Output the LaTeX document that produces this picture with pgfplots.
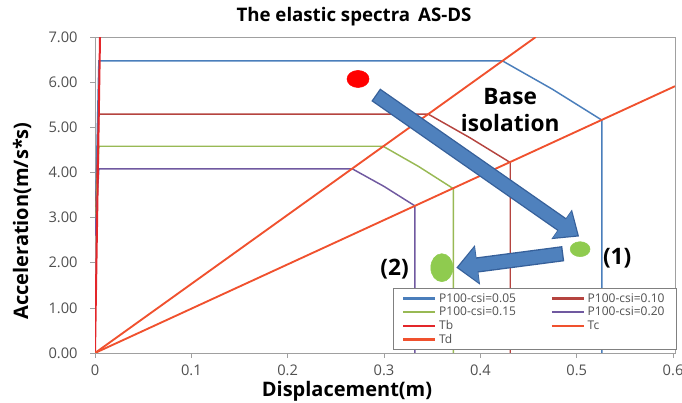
\documentclass[border=0pt]{standalone}
\usepackage{fontspec}
\setmainfont{Open Sans}
\usepackage{pgfplots}
\pgfplotsset{compat=1.18}
\usetikzlibrary{arrows.meta}

\definecolor{c05}{HTML}{4A7EBB}
\definecolor{c10}{HTML}{B5443F}
\definecolor{c15}{HTML}{98B954}
\definecolor{c20}{HTML}{7059A0}
\definecolor{tb}{HTML}{E3262A}
\definecolor{tcd}{HTML}{F0512E}
\definecolor{axgray}{HTML}{A0A0A0}
\definecolor{ticktext}{HTML}{505050}
\definecolor{arrowfill}{HTML}{4F81BD}
\definecolor{arrowedge}{HTML}{36609A}
\definecolor{dotgreen}{HTML}{8FCB4F}

\begin{document}
\begin{tikzpicture}
\useasboundingbox (0,0) rectangle (511.5pt,302.25pt);
\begin{axis}[
  at={(71.25pt,37.5pt)}, anchor=south west,
  scale only axis, width=435pt, height=237pt,
  xmin=0, xmax=0.602, ymin=0, ymax=7,
  xtick={0,0.1,0.2,0.3,0.4,0.5,0.6},
  xticklabels={0,0.1,0.2,0.3,0.4,0.5,0.6},
  ytick={0,1,2,3,4,5,6,7},
  yticklabel={\pgfmathprintnumber[fixed,fixed zerofill,precision=2]{\tick}},
  /pgf/number format/assume math mode=true,
  axis line style={axgray},
  tick style={axgray, thin},
  tick align=outside, major tick length=3.5pt,
  xtick pos=bottom, ytick pos=left,
  ticklabel style={font=\fontsize{11}{13}\selectfont, text=ticktext},
  yticklabel style={xshift=-6pt},
  xticklabel style={yshift=-2pt},
  legend columns=2,
  legend cell align=left,
  legend style={at={(1.003,0.0095)}, anchor=south east,
    draw=axgray!80!black, fill=white,
    font=\fontsize{9}{10}\selectfont, text=ticktext,
    inner xsep=7pt, inner ysep=1.5pt, row sep=-2pt,
    /tikz/every even column/.append style={column sep=24pt}},
  legend image code/.code={\draw[#1] (0pt,0pt) -- (24pt,0pt);},
  legend image post style={line width=1.8pt},
]
% design spectra for the four damping ratios
\addplot[c05, line width=1.1pt] coordinates {
  (0,2.6) (0.004,6.47) (0.423,6.47) (0.475,5.84) (0.526,5.16) (0.526,0)};
\addlegendentry{P100-csi=0.05}
\addplot[c10, line width=1.1pt] coordinates {
  (0,2.6) (0.004,5.29) (0.346,5.29) (0.389,4.77) (0.431,4.22) (0.431,0)};
\addlegendentry{P100-csi=0.10}
\addplot[c15, line width=1.1pt] coordinates {
  (0,2.6) (0.004,4.58) (0.299,4.58) (0.336,4.13) (0.372,3.64) (0.372,0)};
\addlegendentry{P100-csi=0.15}
\addplot[c20, line width=1.1pt] coordinates {
  (0,2.6) (0.004,4.08) (0.267,4.08) (0.300,3.69) (0.332,3.26) (0.332,0)};
\addlegendentry{P100-csi=0.20}
% corner-period lines
\addplot[tb, line width=1.5pt] coordinates {(0,0) (0.0052,7)};
\addlegendentry{Tb}
\addplot[tcd, line width=1.4pt] coordinates {(0,0) (0.4575,7)};
\addlegendentry{Tc}
\addplot[tcd, line width=1.4pt] coordinates {(0,0) (0.602,5.91)};
\addlegendentry{Td}

% shift arrows
\draw[arrowedge, line width=11.5pt, -{Triangle[length=16pt,width=26pt]}]
  (axis cs:0.2914,5.72) -- (axis cs:0.5025,2.58);
\draw[arrowfill, line width=9.5pt, shorten <=1pt, shorten >=1.5pt, -{Triangle[length=14pt,width=23pt]}]
  (axis cs:0.2914,5.72) -- (axis cs:0.5025,2.58);
\draw[arrowedge, line width=11.5pt, -{Triangle[length=16pt,width=29pt]}]
  (axis cs:0.486,2.20) -- (axis cs:0.375,1.89);
\draw[arrowfill, line width=9.5pt, shorten <=1pt, shorten >=1.5pt, -{Triangle[length=14pt,width=26pt]}]
  (axis cs:0.486,2.20) -- (axis cs:0.375,1.89);

% states
\addplot[forget plot, only marks, mark=*, mark size=6.4pt, color=red,
  mark options={xscale=1.29, draw=red, fill=red}] coordinates {(0.273,6.07)};
\addplot[forget plot, only marks, mark=*, mark size=5.6pt, color=dotgreen,
  mark options={xscale=1.33, draw=dotgreen, fill=dotgreen}] coordinates {(0.5035,2.30)};
\addplot[forget plot, only marks, mark=*, mark size=10.5pt, color=dotgreen,
  mark options={xscale=0.79, draw=dotgreen, fill=dotgreen}] coordinates {(0.360,1.89)};

\node[font=\bfseries\fontsize{17}{20}\selectfont, align=center] at (axis cs:0.431,5.38) {Base\\isolation};
\node[font=\bfseries\fontsize{17}{20}\selectfont] at (axis cs:0.542,2.11) {(1)};
\node[font=\bfseries\fontsize{17}{20}\selectfont] at (axis cs:0.311,1.86) {(2)};
\end{axis}

\node[font=\bfseries\fontsize{14}{16}\selectfont] at (265.5pt,289.5pt) {The elastic spectra\hspace{6pt}AS-DS};
\node[font=\bfseries\fontsize{15}{18}\selectfont] at (260.25pt,8.6pt) {Displacement(m)};
\node[rotate=90, font=\bfseries\fontsize{15}{18}\selectfont] at (16.5pt,136.5pt) {Acceleration(m/s*s)};
\end{tikzpicture}
\end{document}
